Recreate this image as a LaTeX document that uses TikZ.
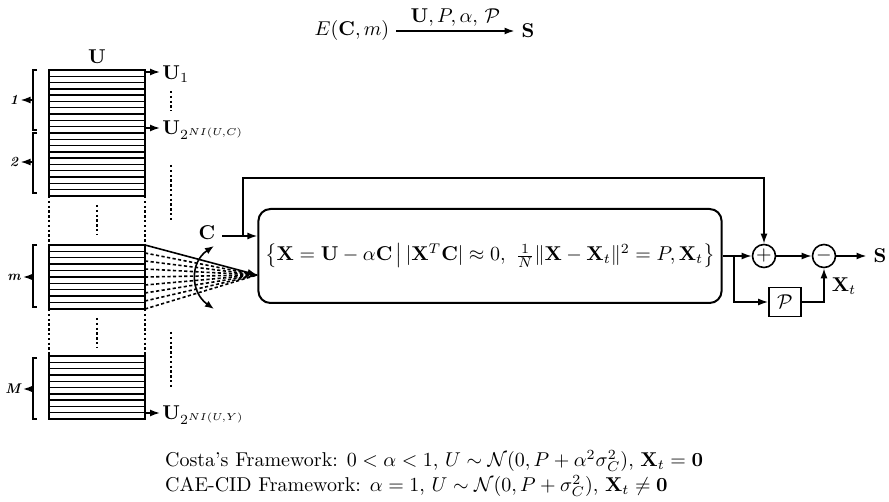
\documentclass[tikz,border=0pt]{standalone}
\usepackage{amsmath,amssymb}
\usetikzlibrary{arrows.meta}
\tikzset{
  sig/.style={-{Latex[length=5pt,width=3.5pt]}, line width=0.8pt},
  blk/.style={draw, line width=1.3pt},
  hatch/.style={line width=0.7pt},
  dotv/.style={line width=1.3pt, dash pattern=on 1.2pt off 1.2pt},
  fanl/.style={line width=0.8pt, dash pattern=on 1.6pt off 1.2pt},
  sumnode/.style={circle, draw, line width=0.8pt, minimum size=11.5pt, inner sep=0pt},
  idx/.style={font=\scriptsize\bfseries\itshape, inner sep=1pt},
}
\begin{document}
\begin{tikzpicture}[x=0.5pt,y=-0.5pt]
\useasboundingbox (0,0) rectangle (889,502);
% top relation
\node (ecm) at (352,31) {$E(\mathbf{C},m)$};
\node (sres) at (528,31) {$\mathbf{S}$};
\draw[sig] (ecm.east) -- (sres.west) node[midway, above, inner sep=2pt] {$\mathbf{U},P,\alpha,\,\mathcal{P}$};

% codebook blocks
\node (ulbl) at (97,57) {$\mathbf{U}$};
\foreach \k in {1,...,19}
  \draw[hatch] (49,{70+\k*6.3}) -- (145,{70+\k*6.3});
\draw[line width=1.2pt] (49,133) -- (145,133);
\draw[blk] (49,70) rectangle (145,196);
\foreach \k in {1,...,9}
  \draw[hatch] (49,{245+\k*6.4}) -- (145,{245+\k*6.4});
\draw[blk] (49,245) rectangle (145,309);
\foreach \k in {1,...,9}
  \draw[hatch] (49,{356+\k*6.3}) -- (145,{356+\k*6.3});
\draw[blk] (49,356) rectangle (145,419);

% gaps between blocks
\draw[dotv] (49,196) -- (49,245);
\draw[dotv] (145,196) -- (145,245);
\draw[dotv] (97,205) -- (97,235);
\draw[dotv] (49,309) -- (49,356);
\draw[dotv] (145,309) -- (145,356);
\draw[dotv] (97,318) -- (97,348);
\draw[dotv] (171,91) -- (171,111);
\draw[dotv] (171,165) -- (171,220);
\draw[dotv] (171,332) -- (171,387);

% brackets and indices
\draw[line width=0.9pt] (37,70) -- (33,70) -- (33,130) -- (37,130);
\draw[line width=0.9pt] (37,133) -- (33,133) -- (33,193) -- (37,193);
\draw[line width=0.9pt] (37,245) -- (33,245) -- (33,307) -- (37,307);
\draw[line width=0.9pt] (37,358) -- (33,358) -- (33,419) -- (37,419);
\node[idx] (i1) at (14,100) {1};
\node[idx] (i2) at (14,162) {2};
\node[idx] (im) at (14,277) {m};
\node[idx] (iM) at (13,389) {M};
\draw[sig] (33,100) -- (i1.east);
\draw[sig] (33,162) -- (i2.east);
\draw[sig] (33,277) -- (im.east);
\draw[sig] (33,389) -- (iM.east);

% codeword outputs
\node[anchor=west, inner sep=1pt] (u1) at (160,74) {$\mathbf{U}_1$};
\node[anchor=west, inner sep=1pt] (u2) at (160,130) {$\mathbf{U}_{2^{NI(U,C)}}$};
\node[anchor=west, inner sep=1pt] (u3) at (160,415) {$\mathbf{U}_{2^{NI(U,Y)}}$};
\draw[sig] (145,72) -- (u1.west |- 145,72);
\draw[sig] (145,128) -- (u2.west |- 145,128);
\draw[sig] (145,413) -- (u3.west |- 145,413);

% encoder
\node[draw, line width=1pt, rounded corners=6pt, minimum width=227pt, minimum height=47pt] (enc) at (490,256)
  {$\left\{\mathbf{X}=\mathbf{U}-\alpha\mathbf{C}\,\middle|\,|\mathbf{X}^T\mathbf{C}|\approx 0,\ \tfrac{1}{N}\|\mathbf{X}-\mathbf{X}_t\|^2=P,\mathbf{X}_t\right\}$};

% selection fan
\foreach \yy in {253,261,...,309}
  \draw[fanl] (145,\yy) -- (257,275);
\draw[sig] (145,245) -- (enc.west |- 145,275);
\draw[{Latex[length=4.5pt,width=3.5pt]}-{Latex[length=4.5pt,width=3.5pt]}, line width=0.8pt]
  (214,246) .. controls (190,262) and (190,292) .. (214,309);

% host signal
\node (cin) at (207,233) {$\mathbf{C}$};
\coordinate (cbr) at (243,236);
\draw[sig] (cin.east |- cbr) -- (enc.west |- cbr);

% combining
\node[sumnode] (plus) at (764,256) {$+$};
\node[sumnode] (minus) at (824,256) {$-$};
\node (sout) at (880,256) {$\mathbf{S}$};
\node[draw, line width=0.8pt, minimum width=16pt, minimum height=14.5pt, inner sep=0pt] (pbox) at (785,302) {$\mathcal{P}$};
\coordinate (xbr) at (734,256);
\draw[sig] (cbr) -- (243,178) -| (plus.north);
\draw[line width=0.8pt] (enc.east) -- (xbr);
\draw[sig] (xbr) -- (plus.west);
\draw[sig] (xbr) |- (pbox.west);
\draw[sig] (plus.east) -- (minus.west);
\draw[sig] (minus.east) -- (sout.west);
\draw[sig] (pbox.east) -| (minus.south);
\node (xt) at (844,286) {$\mathbf{X}_t$};

% notes
\node[anchor=west] (costa) at (158,461) {Costa's Framework: $0<\alpha<1$, $U\sim\mathcal{N}(0,P+\alpha^2\sigma_C^2)$, $\mathbf{X}_t=\mathbf{0}$};
\node[anchor=west] (cae) at (158,486) {CAE-CID Framework: $\alpha=1$, $U\sim\mathcal{N}(0,P+\sigma_C^2)$, $\mathbf{X}_t\neq\mathbf{0}$};
\end{tikzpicture}
\end{document}
